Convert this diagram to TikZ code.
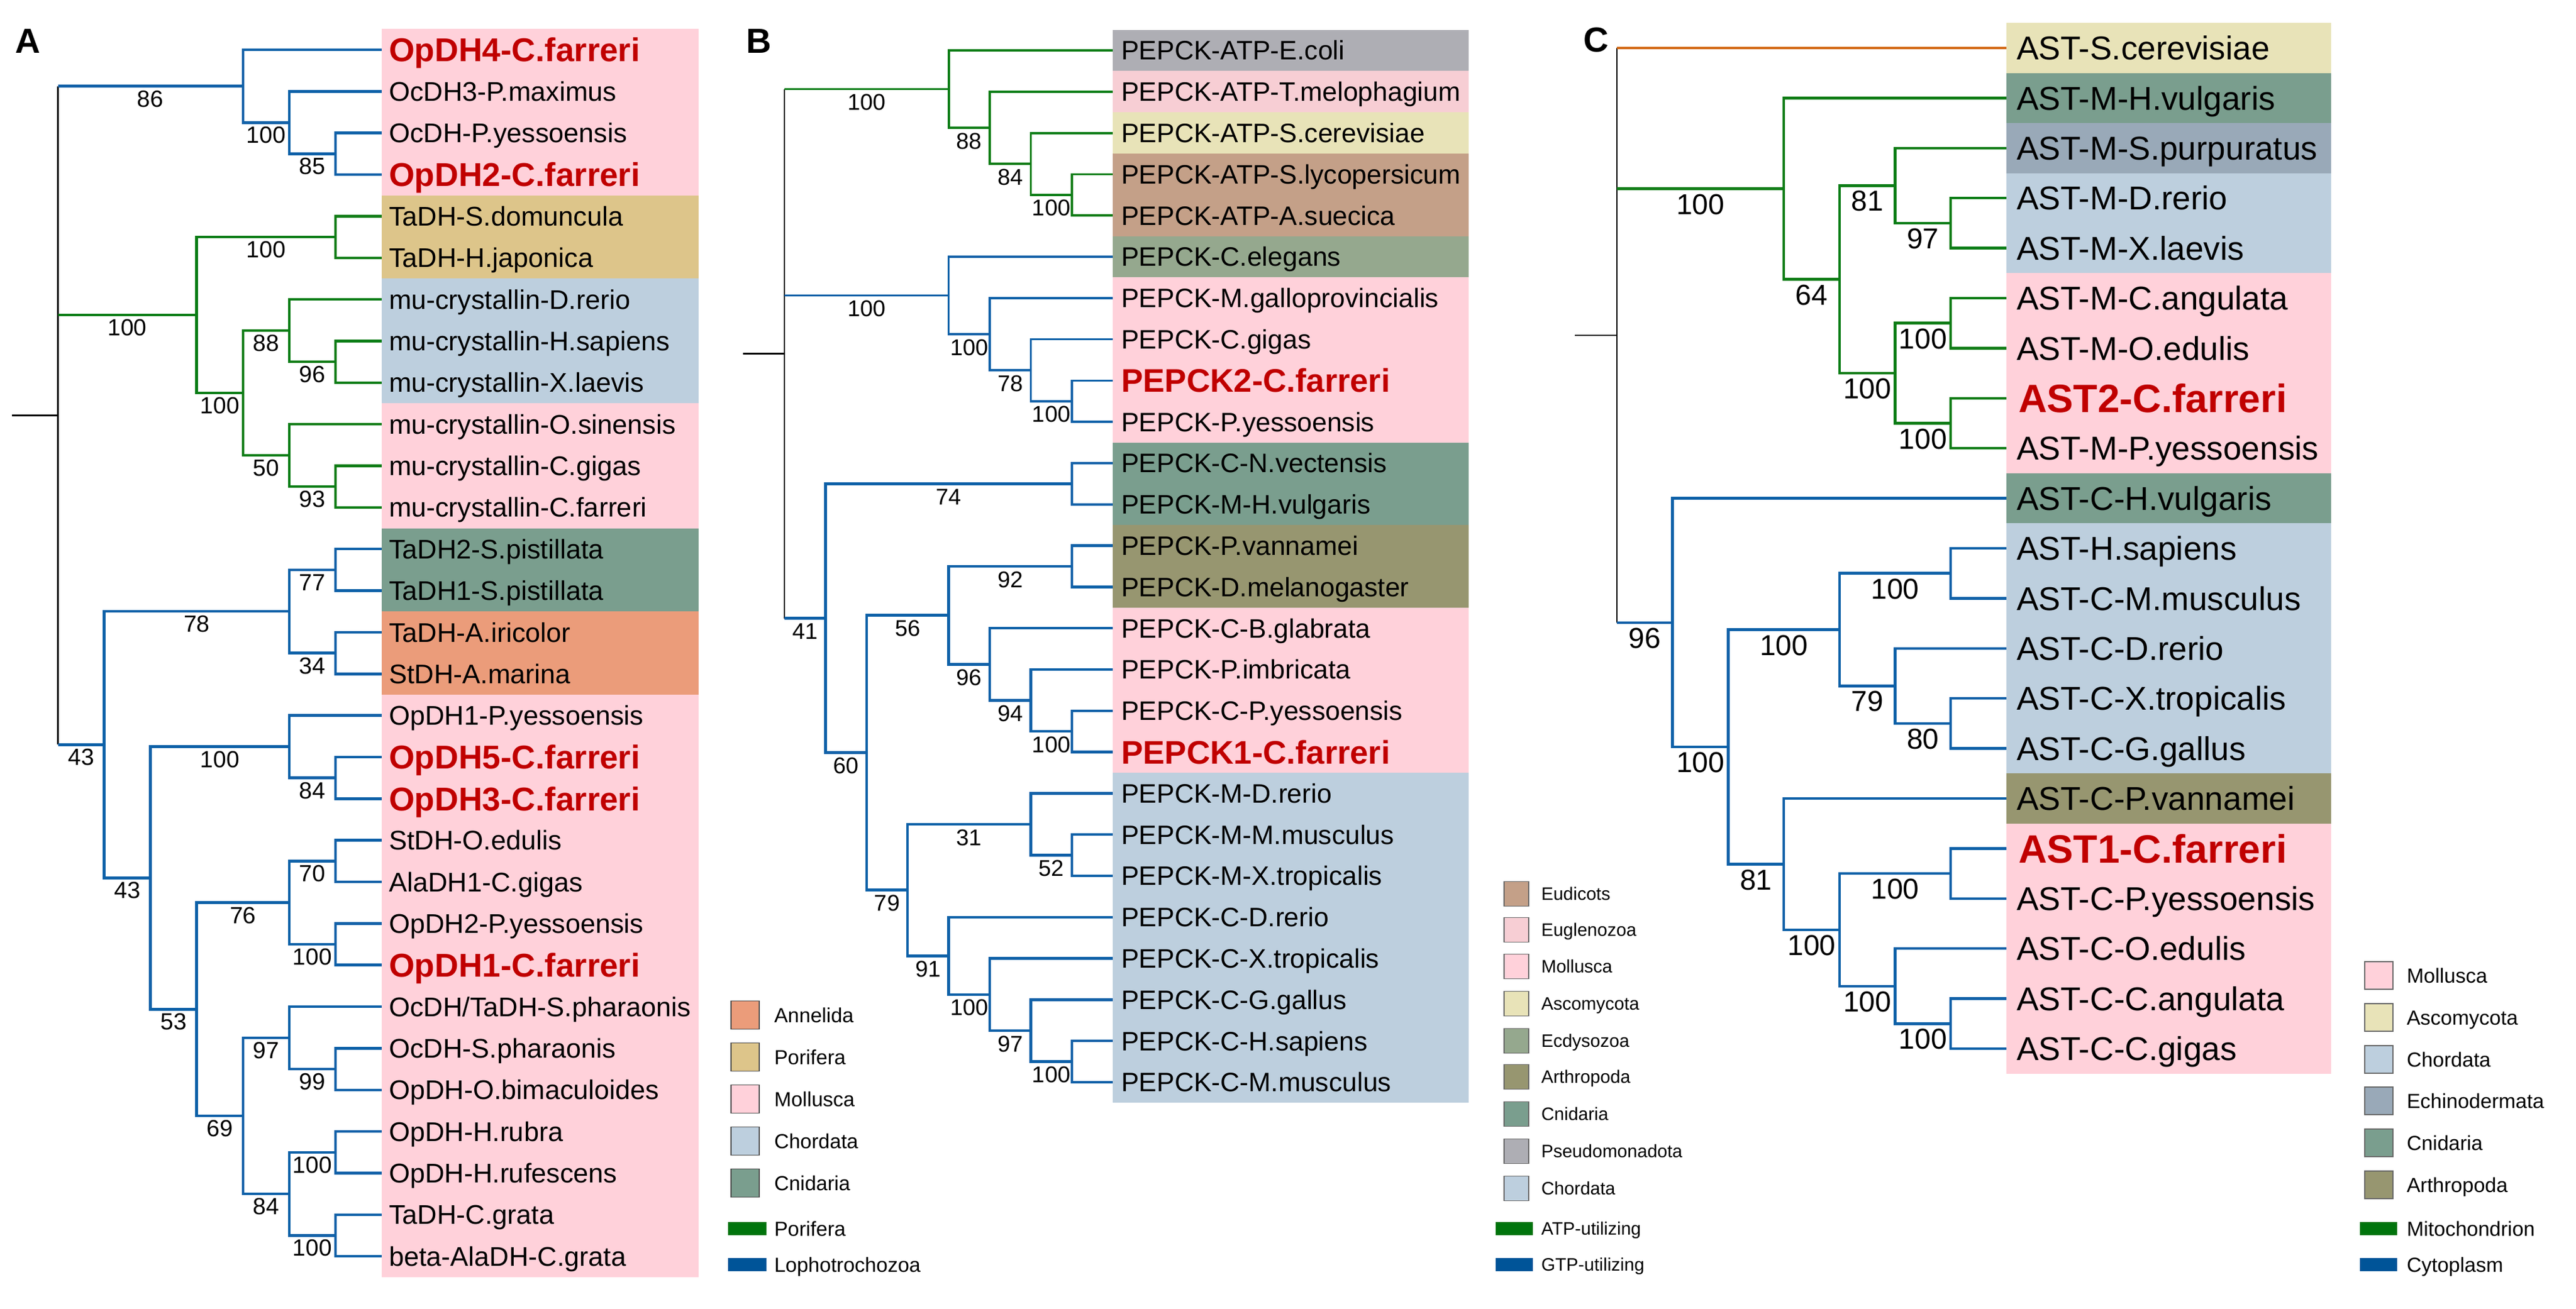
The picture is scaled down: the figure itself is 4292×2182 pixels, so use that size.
\documentclass[tikz,border=0pt]{standalone}
\usepackage{fontspec}
\setmainfont{Liberation Sans}
\definecolor{treeblue}{RGB}{14,97,168}
\definecolor{treegreen}{RGB}{12,125,22}
\definecolor{barblue}{RGB}{0,84,152}
\definecolor{bargreen}{RGB}{0,116,12}
\definecolor{treeorange}{RGB}{210,102,10}
\definecolor{farred}{RGB}{192,0,0}
\definecolor{moll}{RGB}{255,209,218}
\definecolor{pori}{RGB}{221,197,138}
\definecolor{chor}{RGB}{189,207,222}
\definecolor{cnid}{RGB}{122,158,142}
\definecolor{anne}{RGB}{235,156,122}
\definecolor{eudi}{RGB}{196,160,136}
\definecolor{eugl}{RGB}{247,206,212}
\definecolor{asco}{RGB}{232,227,184}
\definecolor{ecdy}{RGB}{149,168,142}
\definecolor{arth}{RGB}{151,150,112}
\definecolor{pseu}{RGB}{174,174,180}
\definecolor{echi}{RGB}{153,169,184}
\newcommand\xA[1]{96.5+77.07*(#1)}
\newcommand\yA[1]{83+69.35*(#1)}
\newcommand\xB[1]{1307+68.4*(#1)}
\newcommand\yB[1]{84+68.8*(#1)}
\newcommand\xC[1]{2694+92.7*(#1)}
\newcommand\yC[1]{80+83.4*(#1)}
\tikzset{
  every node/.style={inner sep=0pt, outer sep=0pt},
  lfA/.style={anchor=west, inner xsep=12pt, text height=32.2pt, text depth=0pt, font=\fontsize{45}{50}\selectfont},
  lfAr/.style={lfA, text height=39.4pt, text=farred, font=\fontsize{55}{60}\selectfont\bfseries},
  lfB/.style={anchor=west, inner xsep=14pt, text height=31.9pt, text depth=0pt, font=\fontsize{44.5}{50}\selectfont},
  lfBr/.style={lfB, text height=39pt, text=farred, font=\fontsize{54.5}{60}\selectfont\bfseries},
  lfC/.style={anchor=west, inner xsep=17pt, text height=39.4pt, text depth=0pt, font=\fontsize{55}{60}\selectfont},
  lfCr/.style={lfC, inner xsep=20pt, text height=47.3pt, text=farred, font=\fontsize{66}{70}\selectfont\bfseries},
  labA/.style={pos=0.75, yshift=-21pt, font=\fontsize{39}{44}\selectfont},
  labB/.style={pos=0.75, yshift=-22pt, font=\fontsize{38}{42}\selectfont},
  labC/.style={pos=0.75, yshift=-26pt, font=\fontsize{48}{52}\selectfont},
  brA/.style={line width=4.5pt},
  brBg/.style={line width=3.8pt, draw=treegreen},
  brBu/.style={line width=3.6pt, draw=treeblue},
  brBl/.style={line width=4.5pt, draw=treeblue},
  brC/.style={line width=4.5pt},
  rootline/.style={line width=2.5pt, draw=black},
  sqA/.style={draw=black!70, line width=1.5pt, minimum width=47pt, minimum height=47pt},
  sqB/.style={draw=black!60, line width=1.5pt, minimum width=41pt, minimum height=41pt},
  sqC/.style={draw=black!60, line width=1.5pt, minimum width=47pt, minimum height=46pt},
  ltA/.style={anchor=west, text height=24.3pt, text depth=0pt, font=\fontsize{34}{38}\selectfont},
  ltB/.style={anchor=west, text height=21.5pt, text depth=0pt, font=\fontsize{30}{34}\selectfont},
  barA/.style={minimum width=64pt, minimum height=22pt},
  barB/.style={minimum width=62pt, minimum height=22pt},
  panel/.style={font=\fontsize{58}{60}\selectfont\bfseries},
}
\begin{document}
\begin{tikzpicture}[x=1pt,y=-1pt]
\useasboundingbox (0,0) rectangle (4292,2182);
\fill[white] (0,0) rectangle (4292,2182);
%% ================= PANEL A =================
\node[panel] (PA) at (46,69) {A};
\fill[moll] (636,{\yA{-0.5}}) rectangle (1164,{\yA{3.5}});
\fill[pori] (636,{\yA{3.5}}) rectangle (1164,{\yA{5.5}});
\fill[chor] (636,{\yA{5.5}}) rectangle (1164,{\yA{8.5}});
\fill[moll] (636,{\yA{8.5}}) rectangle (1164,{\yA{11.5}});
\fill[cnid] (636,{\yA{11.5}}) rectangle (1164,{\yA{13.5}});
\fill[anne] (636,{\yA{13.5}}) rectangle (1164,{\yA{15.5}});
\fill[moll] (636,{\yA{15.5}}) rectangle (1164,{\yA{29.5}});
\node[lfAr] (A0) at (636,{\yA{0}}) {OpDH4-C.farreri};
\node[lfA] (A1) at (636,{\yA{1}}) {OcDH3-P.maximus};
\node[lfA] (A2) at (636,{\yA{2}}) {OcDH-P.yessoensis};
\node[lfAr] (A3) at (636,{\yA{3}}) {OpDH2-C.farreri};
\node[lfA] (A4) at (636,{\yA{4}}) {TaDH-S.domuncula};
\node[lfA] (A5) at (636,{\yA{5}}) {TaDH-H.japonica};
\node[lfA] (A6) at (636,{\yA{6}}) {mu-crystallin-D.rerio};
\node[lfA] (A7) at (636,{\yA{7}}) {mu-crystallin-H.sapiens};
\node[lfA] (A8) at (636,{\yA{8}}) {mu-crystallin-X.laevis};
\node[lfA] (A9) at (636,{\yA{9}}) {mu-crystallin-O.sinensis};
\node[lfA] (A10) at (636,{\yA{10}}) {mu-crystallin-C.gigas};
\node[lfA] (A11) at (636,{\yA{11}}) {mu-crystallin-C.farreri};
\node[lfA] (A12) at (636,{\yA{12}}) {TaDH2-S.pistillata};
\node[lfA] (A13) at (636,{\yA{13}}) {TaDH1-S.pistillata};
\node[lfA] (A14) at (636,{\yA{14}}) {TaDH-A.iricolor};
\node[lfA] (A15) at (636,{\yA{15}}) {StDH-A.marina};
\node[lfA] (A16) at (636,{\yA{16}}) {OpDH1-P.yessoensis};
\node[lfAr] (A17) at (636,{\yA{17}}) {OpDH5-C.farreri};
\node[lfAr] (A18) at (636,{\yA{18}}) {OpDH3-C.farreri};
\node[lfA] (A19) at (636,{\yA{19}}) {StDH-O.edulis};
\node[lfA] (A20) at (636,{\yA{20}}) {AlaDH1-C.gigas};
\node[lfA] (A21) at (636,{\yA{21}}) {OpDH2-P.yessoensis};
\node[lfAr] (A22) at (636,{\yA{22}}) {OpDH1-C.farreri};
\node[lfA] (A23) at (636,{\yA{23}}) {OcDH/TaDH-S.pharaonis};
\node[lfA] (A24) at (636,{\yA{24}}) {OcDH-S.pharaonis};
\node[lfA] (A25) at (636,{\yA{25}}) {OpDH-O.bimaculoides};
\node[lfA] (A26) at (636,{\yA{26}}) {OpDH-H.rubra};
\node[lfA] (A27) at (636,{\yA{27}}) {OpDH-H.rufescens};
\node[lfA] (A28) at (636,{\yA{28}}) {TaDH-C.grata};
\node[lfA] (A29) at (636,{\yA{29}}) {beta-AlaDH-C.grata};
% internal nodes
\coordinate (rA) at ({\xA{0}},{\yA{8.7890625}});
\coordinate (sA) at (20,{\yA{8.7890625}});
\coordinate (a85) at ({\xA{6}},{\yA{2.5}});
\coordinate (a100a) at ({\xA{5}},{\yA{1.75}});
\coordinate (a86) at ({\xA{4}},{\yA{0.875}});
\coordinate (aT100) at ({\xA{6}},{\yA{4.5}});
\coordinate (a96) at ({\xA{6}},{\yA{7.5}});
\coordinate (a88) at ({\xA{5}},{\yA{6.75}});
\coordinate (a93) at ({\xA{6}},{\yA{10.5}});
\coordinate (a50) at ({\xA{5}},{\yA{9.75}});
\coordinate (aM100) at ({\xA{4}},{\yA{8.25}});
\coordinate (aG) at ({\xA{3}},{\yA{6.375}});
\coordinate (a77) at ({\xA{6}},{\yA{12.5}});
\coordinate (a34) at ({\xA{6}},{\yA{14.5}});
\coordinate (a78) at ({\xA{5}},{\yA{13.5}});
\coordinate (a84a) at ({\xA{6}},{\yA{17.5}});
\coordinate (a100b) at ({\xA{5}},{\yA{16.75}});
\coordinate (a70) at ({\xA{6}},{\yA{19.5}});
\coordinate (a100c) at ({\xA{6}},{\yA{21.5}});
\coordinate (a76) at ({\xA{5}},{\yA{20.5}});
\coordinate (a99) at ({\xA{6}},{\yA{24.5}});
\coordinate (a97) at ({\xA{5}},{\yA{23.75}});
\coordinate (a100d) at ({\xA{6}},{\yA{26.5}});
\coordinate (a100e) at ({\xA{6}},{\yA{28.5}});
\coordinate (a84b) at ({\xA{5}},{\yA{27.5}});
\coordinate (a69) at ({\xA{4}},{\yA{25.625}});
\coordinate (a53) at ({\xA{3}},{\yA{23.0625}});
\coordinate (a43b) at ({\xA{2}},{\yA{19.90625}});
\coordinate (a43a) at ({\xA{1}},{\yA{16.703125}});
% root
\draw[rootline] (sA) -- (rA);
\draw[rootline] (rA |- a86) -- (rA |- a43a);
% top blue clade
\begin{scope}[brA, draw=treeblue]
\draw (a85) |- (A2.west) (a85) |- (A3.west);
\draw (a100a) |- (A1.west) (a100a) |- node[labA]{85} (a85);
\draw (a86) |- (A0.west) (a86) |- node[labA]{100} (a100a);
\draw (rA |- a86) -- node[labA,pos=0.5]{86} (a86);
\end{scope}
% green clade
\begin{scope}[brA, draw=treegreen]
\draw (aT100) |- (A4.west) (aT100) |- (A5.west);
\draw (a96) |- (A7.west) (a96) |- (A8.west);
\draw (a88) |- (A6.west) (a88) |- node[labA]{96} (a96);
\draw (a93) |- (A10.west) (a93) |- (A11.west);
\draw (a50) |- (A9.west) (a50) |- node[labA]{93} (a93);
\draw (aM100) |- node[labA]{88} (a88) (aM100) |- node[labA]{50} (a50);
\draw (aG) |- node[labA]{100} (aT100) (aG) |- node[labA]{100} (aM100);
\draw (rA |- aG) -- node[labA,pos=0.5]{100} (aG);
\end{scope}
% bottom blue clade
\begin{scope}[brA, draw=treeblue]
\draw (a77) |- (A12.west) (a77) |- (A13.west);
\draw (a34) |- (A14.west) (a34) |- (A15.west);
\draw (a78) |- node[labA]{77} (a77) (a78) |- node[labA]{34} (a34);
\draw (a84a) |- (A17.west) (a84a) |- (A18.west);
\draw (a100b) |- (A16.west) (a100b) |- node[labA]{84} (a84a);
\draw (a70) |- (A19.west) (a70) |- (A20.west);
\draw (a100c) |- (A21.west) (a100c) |- (A22.west);
\draw (a76) |- node[labA]{70} (a70) (a76) |- node[labA]{100} (a100c);
\draw (a99) |- (A24.west) (a99) |- (A25.west);
\draw (a97) |- (A23.west) (a97) |- node[labA]{99} (a99);
\draw (a100d) |- (A26.west) (a100d) |- (A27.west);
\draw (a100e) |- (A28.west) (a100e) |- (A29.west);
\draw (a84b) |- node[labA]{100} (a100d) (a84b) |- node[labA]{100} (a100e);
\draw (a69) |- node[labA]{97} (a97) (a69) |- node[labA]{84} (a84b);
\draw (a53) |- node[labA]{76} (a76) (a53) |- node[labA]{69} (a69);
\draw (a43b) |- node[labA]{100} (a100b) (a43b) |- node[labA]{53} (a53);
\draw (a43a) |- node[labA]{78} (a78) (a43a) |- node[labA]{43} (a43b);
\draw (rA |- a43a) -- node[labA,pos=0.5]{43} (a43a);
\end{scope}
% legend A
\node[sqA, fill=anne] (qA1) at (1241.5,1692) {};
\node[ltA] (tA1) at (1290,1692) {Annelida};
\node[sqA, fill=pori] (qA2) at (1241.5,1762) {};
\node[ltA] (tA2) at (1290,1762) {Porifera};
\node[sqA, fill=moll] (qA3) at (1241.5,1832) {};
\node[ltA] (tA3) at (1290,1832) {Mollusca};
\node[sqA, fill=chor] (qA4) at (1241.5,1902) {};
\node[ltA] (tA4) at (1290,1902) {Chordata};
\node[sqA, fill=cnid] (qA5) at (1241.5,1972) {};
\node[ltA] (tA5) at (1290,1972) {Cnidaria};
\node[barA, fill=bargreen] (qA6) at (1245,2048) {};
\node[ltA] (tA6) at (1290,2048) {Porifera};
\node[barA, fill=barblue] (qA7) at (1245,2108) {};
\node[ltA] (tA7) at (1290,2108) {Lophotrochozoa};
%% ================= PANEL B =================
\node[panel] (PB) at (1264,69) {B};
\fill[pseu] (1854,{\yB{-0.5}}) rectangle (2447,{\yB{0.5}});
\fill[eugl] (1854,{\yB{0.5}}) rectangle (2447,{\yB{1.5}});
\fill[asco] (1854,{\yB{1.5}}) rectangle (2447,{\yB{2.5}});
\fill[eudi] (1854,{\yB{2.5}}) rectangle (2447,{\yB{4.5}});
\fill[ecdy] (1854,{\yB{4.5}}) rectangle (2447,{\yB{5.5}});
\fill[moll] (1854,{\yB{5.5}}) rectangle (2447,{\yB{9.5}});
\fill[cnid] (1854,{\yB{9.5}}) rectangle (2447,{\yB{11.5}});
\fill[arth] (1854,{\yB{11.5}}) rectangle (2447,{\yB{13.5}});
\fill[moll] (1854,{\yB{13.5}}) rectangle (2447,{\yB{17.5}});
\fill[chor] (1854,{\yB{17.5}}) rectangle (2447,{\yB{25.5}});
\node[lfB] (B0) at (1854,{\yB{0}}) {PEPCK-ATP-E.coli};
\node[lfB] (B1) at (1854,{\yB{1}}) {PEPCK-ATP-T.melophagium};
\node[lfB] (B2) at (1854,{\yB{2}}) {PEPCK-ATP-S.cerevisiae};
\node[lfB] (B3) at (1854,{\yB{3}}) {PEPCK-ATP-S.lycopersicum};
\node[lfB] (B4) at (1854,{\yB{4}}) {PEPCK-ATP-A.suecica};
\node[lfB] (B5) at (1854,{\yB{5}}) {PEPCK-C.elegans};
\node[lfB] (B6) at (1854,{\yB{6}}) {PEPCK-M.galloprovincialis};
\node[lfB] (B7) at (1854,{\yB{7}}) {PEPCK-C.gigas};
\node[lfBr] (B8) at (1854,{\yB{8}}) {PEPCK2-C.farreri};
\node[lfB] (B9) at (1854,{\yB{9}}) {PEPCK-P.yessoensis};
\node[lfB] (B10) at (1854,{\yB{10}}) {PEPCK-C-N.vectensis};
\node[lfB] (B11) at (1854,{\yB{11}}) {PEPCK-M-H.vulgaris};
\node[lfB] (B12) at (1854,{\yB{12}}) {PEPCK-P.vannamei};
\node[lfB] (B13) at (1854,{\yB{13}}) {PEPCK-D.melanogaster};
\node[lfB] (B14) at (1854,{\yB{14}}) {PEPCK-C-B.glabrata};
\node[lfB] (B15) at (1854,{\yB{15}}) {PEPCK-P.imbricata};
\node[lfB] (B16) at (1854,{\yB{16}}) {PEPCK-C-P.yessoensis};
\node[lfBr] (B17) at (1854,{\yB{17}}) {PEPCK1-C.farreri};
\node[lfB] (B18) at (1854,{\yB{18}}) {PEPCK-M-D.rerio};
\node[lfB] (B19) at (1854,{\yB{19}}) {PEPCK-M-M.musculus};
\node[lfB] (B20) at (1854,{\yB{20}}) {PEPCK-M-X.tropicalis};
\node[lfB] (B21) at (1854,{\yB{21}}) {PEPCK-C-D.rerio};
\node[lfB] (B22) at (1854,{\yB{22}}) {PEPCK-C-X.tropicalis};
\node[lfB] (B23) at (1854,{\yB{23}}) {PEPCK-C-G.gallus};
\node[lfB] (B24) at (1854,{\yB{24}}) {PEPCK-C-H.sapiens};
\node[lfB] (B25) at (1854,{\yB{25}}) {PEPCK-C-M.musculus};
\coordinate (rB) at ({\xB{0}},{\yB{7.34765625}});
\coordinate (sB) at (1238,{\yB{7.34765625}});
\coordinate (b100a) at ({\xB{7}},{\yB{3.5}});
\coordinate (b84) at ({\xB{6}},{\yB{2.75}});
\coordinate (b88) at ({\xB{5}},{\yB{1.875}});
\coordinate (bG) at ({\xB{4}},{\yB{0.9375}});
\coordinate (b100b) at ({\xB{7}},{\yB{8.5}});
\coordinate (b78) at ({\xB{6}},{\yB{7.75}});
\coordinate (b100c) at ({\xB{5}},{\yB{6.875}});
\coordinate (bE) at ({\xB{4}},{\yB{5.9375}});
\coordinate (b74) at ({\xB{7}},{\yB{10.5}});
\coordinate (b92) at ({\xB{7}},{\yB{12.5}});
\coordinate (b100d) at ({\xB{7}},{\yB{16.5}});
\coordinate (b94) at ({\xB{6}},{\yB{15.75}});
\coordinate (b96) at ({\xB{5}},{\yB{14.875}});
\coordinate (b56) at ({\xB{4}},{\yB{13.6875}});
\coordinate (b52) at ({\xB{7}},{\yB{19.5}});
\coordinate (b31) at ({\xB{6}},{\yB{18.75}});
\coordinate (b100e) at ({\xB{7}},{\yB{24.5}});
\coordinate (b97) at ({\xB{6}},{\yB{23.75}});
\coordinate (b100f) at ({\xB{5}},{\yB{22.875}});
\coordinate (b91) at ({\xB{4}},{\yB{21.9375}});
\coordinate (b79) at ({\xB{3}},{\yB{20.34375}});
\coordinate (b60) at ({\xB{2}},{\yB{17.015625}});
\coordinate (b41) at ({\xB{1}},{\yB{13.7578125}});
\draw[rootline] (sB) -- (rB);
\draw[rootline] (rB |- bG) -- (rB |- b41);
\begin{scope}[brBg]
\draw (b100a) |- (B3.west) (b100a) |- (B4.west);
\draw (b84) |- (B2.west) (b84) |- node[labB]{100} (b100a);
\draw (b88) |- (B1.west) (b88) |- node[labB]{84} (b84);
\draw (bG) |- (B0.west) (bG) |- node[labB]{88} (b88);
\draw (rB |- bG) -- node[labB,pos=0.5]{100} (bG);
\end{scope}
\begin{scope}[brBu]
\draw (b100b) |- (B8.west) (b100b) |- (B9.west);
\draw (b78) |- (B7.west) (b78) |- node[labB]{100} (b100b);
\draw (b100c) |- (B6.west) (b100c) |- node[labB]{78} (b78);
\draw (bE) |- (B5.west) (bE) |- node[labB]{100} (b100c);
\draw (rB |- bE) -- node[labB,pos=0.5]{100} (bE);
\end{scope}
\begin{scope}[brBl]
\draw (b74) |- (B10.west) (b74) |- (B11.west);
\draw (b92) |- (B12.west) (b92) |- (B13.west);
\draw (b100d) |- (B16.west) (b100d) |- (B17.west);
\draw (b94) |- (B15.west) (b94) |- node[labB]{100} (b100d);
\draw (b96) |- (B14.west) (b96) |- node[labB]{94} (b94);
\draw (b56) |- node[labB]{92} (b92) (b56) |- node[labB]{96} (b96);
\draw (b52) |- (B19.west) (b52) |- (B20.west);
\draw (b31) |- (B18.west) (b31) |- node[labB]{52} (b52);
\draw (b100e) |- (B24.west) (b100e) |- (B25.west);
\draw (b97) |- (B23.west) (b97) |- node[labB]{100} (b100e);
\draw (b100f) |- (B22.west) (b100f) |- node[labB]{97} (b97);
\draw (b91) |- (B21.west) (b91) |- node[labB]{100} (b100f);
\draw (b79) |- node[labB]{31} (b31) (b79) |- node[labB]{91} (b91);
\draw (b60) |- node[labB]{56} (b56) (b60) |- node[labB]{79} (b79);
\draw (b41) |- node[labB]{74} (b74) (b41) |- node[labB]{60} (b60);
\draw (rB |- b41) -- node[labB,pos=0.5]{41} (b41);
\end{scope}
% legend B
\node[sqB, fill=eudi] (qB1) at (2526.5,1490) {};
\node[ltB] (tB1) at (2568,1490) {Eudicots};
\node[sqB, fill=eugl] (qB2) at (2526.5,1550) {};
\node[ltB] (tB2) at (2568,1550) {Euglenozoa};
\node[sqB, fill=moll] (qB3) at (2526.5,1611) {};
\node[ltB] (tB3) at (2568,1611) {Mollusca};
\node[sqB, fill=asco] (qB4) at (2526.5,1673) {};
\node[ltB] (tB4) at (2568,1673) {Ascomycota};
\node[sqB, fill=ecdy] (qB5) at (2526.5,1735) {};
\node[ltB] (tB5) at (2568,1735) {Ecdysozoa};
\node[sqB, fill=arth] (qB6) at (2526.5,1795) {};
\node[ltB] (tB6) at (2568,1795) {Arthropoda};
\node[sqB, fill=cnid] (qB7) at (2526.5,1857) {};
\node[ltB] (tB7) at (2568,1857) {Cnidaria};
\node[sqB, fill=pseu] (qB8) at (2526.5,1919) {};
\node[ltB] (tB8) at (2568,1919) {Pseudomonadota};
\node[sqB, fill=chor] (qB9) at (2526.5,1981) {};
\node[ltB] (tB9) at (2568,1981) {Chordata};
\node[barB, fill=bargreen] (qB10) at (2523,2048) {};
\node[ltB] (tB10) at (2568,2048) {ATP-utilizing};
\node[barB, fill=barblue] (qB11) at (2523,2108) {};
\node[ltB] (tB11) at (2568,2108) {GTP-utilizing};
%% ================= PANEL C =================
\node[panel] (PC) at (2659,67) {C};
\fill[asco] (3343,{\yC{-0.5}}) rectangle (3884,{\yC{0.5}});
\fill[cnid] (3343,{\yC{0.5}}) rectangle (3884,{\yC{1.5}});
\fill[echi] (3343,{\yC{1.5}}) rectangle (3884,{\yC{2.5}});
\fill[chor] (3343,{\yC{2.5}}) rectangle (3884,{\yC{4.5}});
\fill[moll] (3343,{\yC{4.5}}) rectangle (3884,{\yC{8.5}});
\fill[cnid] (3343,{\yC{8.5}}) rectangle (3884,{\yC{9.5}});
\fill[chor] (3343,{\yC{9.5}}) rectangle (3884,{\yC{14.5}});
\fill[arth] (3343,{\yC{14.5}}) rectangle (3884,{\yC{15.5}});
\fill[moll] (3343,{\yC{15.5}}) rectangle (3884,{\yC{20.5}});
\node[lfC] (C0) at (3343,{\yC{0}}) {AST-S.cerevisiae};
\node[lfC] (C1) at (3343,{\yC{1}}) {AST-M-H.vulgaris};
\node[lfC] (C2) at (3343,{\yC{2}}) {AST-M-S.purpuratus};
\node[lfC] (C3) at (3343,{\yC{3}}) {AST-M-D.rerio};
\node[lfC] (C4) at (3343,{\yC{4}}) {AST-M-X.laevis};
\node[lfC] (C5) at (3343,{\yC{5}}) {AST-M-C.angulata};
\node[lfC] (C6) at (3343,{\yC{6}}) {AST-M-O.edulis};
\node[lfCr] (C7) at (3343,{\yC{7}}) {AST2-C.farreri};
\node[lfC] (C8) at (3343,{\yC{8}}) {AST-M-P.yessoensis};
\node[lfC] (C9) at (3343,{\yC{9}}) {AST-C-H.vulgaris};
\node[lfC] (C10) at (3343,{\yC{10}}) {AST-H.sapiens};
\node[lfC] (C11) at (3343,{\yC{11}}) {AST-C-M.musculus};
\node[lfC] (C12) at (3343,{\yC{12}}) {AST-C-D.rerio};
\node[lfC] (C13) at (3343,{\yC{13}}) {AST-C-X.tropicalis};
\node[lfC] (C14) at (3343,{\yC{14}}) {AST-C-G.gallus};
\node[lfC] (C15) at (3343,{\yC{15}}) {AST-C-P.vannamei};
\node[lfCr] (C16) at (3343,{\yC{16}}) {AST1-C.farreri};
\node[lfC] (C17) at (3343,{\yC{17}}) {AST-C-P.yessoensis};
\node[lfC] (C18) at (3343,{\yC{18}}) {AST-C-O.edulis};
\node[lfC] (C19) at (3343,{\yC{19}}) {AST-C-C.angulata};
\node[lfC] (C20) at (3343,{\yC{20}}) {AST-C-C.gigas};
\coordinate (rC) at ({\xC{0}},{\yC{5.7421875}});
\coordinate (sC) at (2624,{\yC{5.7421875}});
\coordinate (c97) at ({\xC{6}},{\yC{3.5}});
\coordinate (c81) at ({\xC{5}},{\yC{2.75}});
\coordinate (c100a) at ({\xC{6}},{\yC{5.5}});
\coordinate (c100b) at ({\xC{6}},{\yC{7.5}});
\coordinate (c100c) at ({\xC{5}},{\yC{6.5}});
\coordinate (c64) at ({\xC{4}},{\yC{4.625}});
\coordinate (cG) at ({\xC{3}},{\yC{2.8125}});
\coordinate (c100d) at ({\xC{6}},{\yC{10.5}});
\coordinate (c80) at ({\xC{6}},{\yC{13.5}});
\coordinate (c79) at ({\xC{5}},{\yC{12.75}});
\coordinate (c100e) at ({\xC{4}},{\yC{11.625}});
\coordinate (c100h) at ({\xC{6}},{\yC{16.5}});
\coordinate (c100j) at ({\xC{6}},{\yC{19.5}});
\coordinate (c100k) at ({\xC{5}},{\yC{18.75}});
\coordinate (c100i) at ({\xC{4}},{\yC{17.625}});
\coordinate (c81b) at ({\xC{3}},{\yC{16.3125}});
\coordinate (c100g) at ({\xC{2}},{\yC{13.96875}});
\coordinate (c96) at ({\xC{1}},{\yC{11.484375}});
\draw[rootline] (sC) -- (rC);
\draw[rootline] (rC |- C0.west) -- (rC |- c96);
\draw[line width=4pt, draw=treeorange] (rC |- C0.west) -- (C0.west);
\begin{scope}[brC, draw=treegreen]
\draw (c97) |- (C3.west) (c97) |- (C4.west);
\draw (c81) |- (C2.west) (c81) |- node[labC]{97} (c97);
\draw (c100a) |- (C5.west) (c100a) |- (C6.west);
\draw (c100b) |- (C7.west) (c100b) |- (C8.west);
\draw (c100c) |- node[labC]{100} (c100a) (c100c) |- node[labC]{100} (c100b);
\draw (c64) |- node[labC]{81} (c81) (c64) |- node[labC]{100} (c100c);
\draw (cG) |- (C1.west) (cG) |- node[labC]{64} (c64);
\draw (rC |- cG) -- node[labC,pos=0.5]{100} (cG);
\end{scope}
\begin{scope}[brC, draw=treeblue]
\draw (c100d) |- (C10.west) (c100d) |- (C11.west);
\draw (c80) |- (C13.west) (c80) |- (C14.west);
\draw (c79) |- (C12.west) (c79) |- node[labC]{80} (c80);
\draw (c100e) |- node[labC]{100} (c100d) (c100e) |- node[labC]{79} (c79);
\draw (c100h) |- (C16.west) (c100h) |- (C17.west);
\draw (c100j) |- (C19.west) (c100j) |- (C20.west);
\draw (c100k) |- (C18.west) (c100k) |- node[labC]{100} (c100j);
\draw (c100i) |- node[labC]{100} (c100h) (c100i) |- node[labC]{100} (c100k);
\draw (c81b) |- (C15.west) (c81b) |- node[labC]{100} (c100i);
\draw (c100g) |- node[labC]{100} (c100e) (c100g) |- node[labC]{81} (c81b);
\draw (c96) |- (C9.west) (c96) |- node[labC]{100} (c100g);
\draw (rC |- c96) -- node[labC,pos=0.5]{96} (c96);
\end{scope}
% legend C
\node[sqC, fill=moll] (qC1) at (3963.5,1626) {};
\node[ltA] (tC1) at (4010,1626) {Mollusca};
\node[sqC, fill=asco] (qC2) at (3963.5,1696) {};
\node[ltA] (tC2) at (4010,1696) {Ascomycota};
\node[sqC, fill=chor] (qC3) at (3963.5,1766) {};
\node[ltA] (tC3) at (4010,1766) {Chordata};
\node[sqC, fill=echi] (qC4) at (3963.5,1835) {};
\node[ltA] (tC4) at (4010,1835) {Echinodermata};
\node[sqC, fill=cnid] (qC5) at (3963.5,1905) {};
\node[ltA] (tC5) at (4010,1905) {Cnidaria};
\node[sqC, fill=arth] (qC6) at (3963.5,1975) {};
\node[ltA] (tC6) at (4010,1975) {Arthropoda};
\node[barB, fill=bargreen] (qC7) at (3962.5,2048) {};
\node[ltA] (tC7) at (4010,2048) {Mitochondrion};
\node[barB, fill=barblue] (qC8) at (3962.5,2108) {};
\node[ltA] (tC8) at (4010,2108) {Cytoplasm};
\end{tikzpicture}
\end{document}
